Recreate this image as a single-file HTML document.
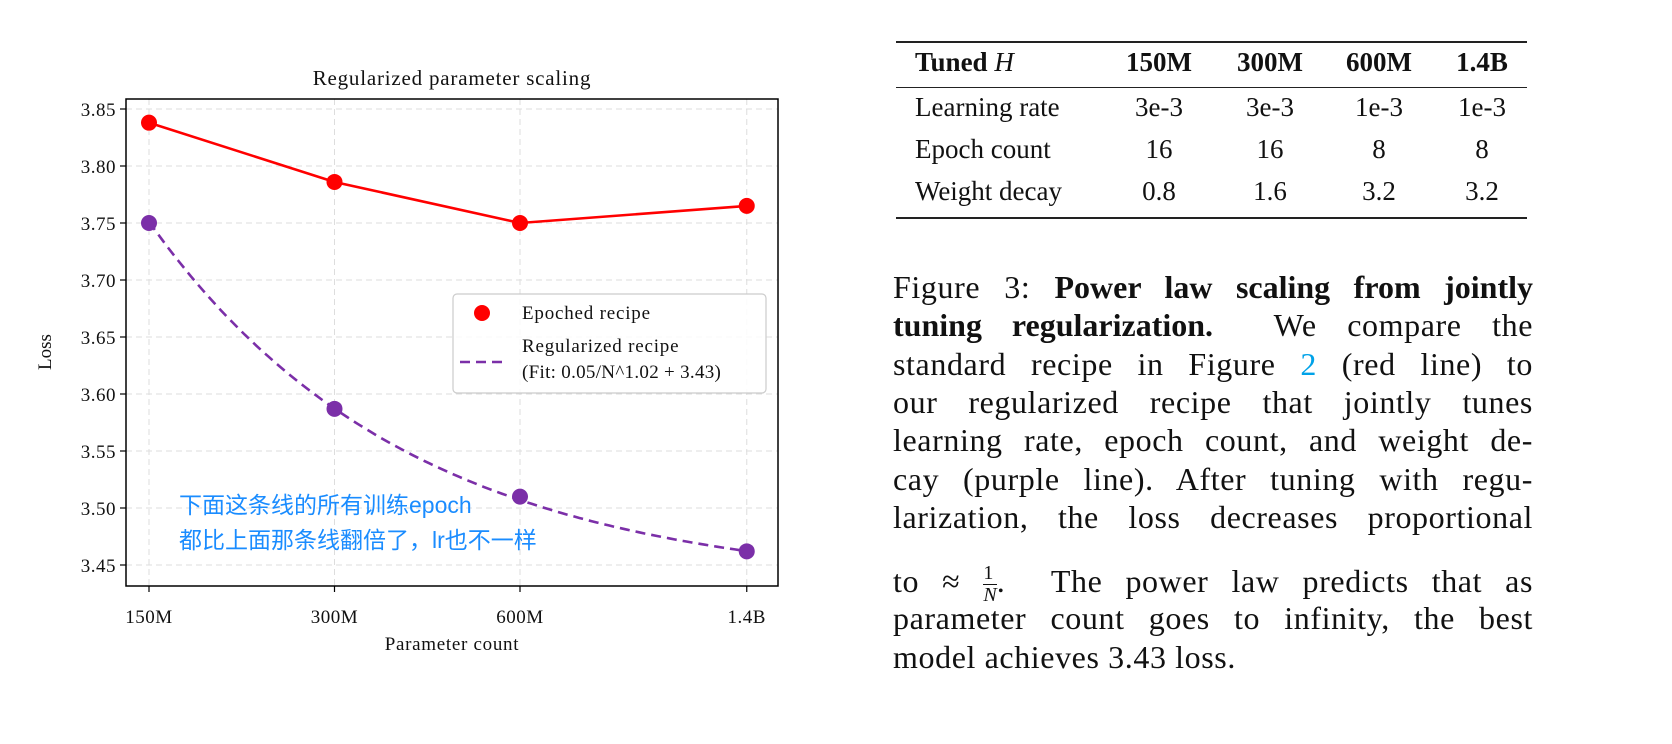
<!DOCTYPE html>
<html><head><meta charset="utf-8">
<style>
body{margin:0;background:#fff;width:1672px;height:744px;overflow:hidden;position:relative;font-family:"Liberation Serif",serif}
.cap{position:absolute;left:893px;width:640px;font-size:32px;line-height:38px;white-space:nowrap;text-align:justify;text-align-last:justify;color:#111;letter-spacing:0.6px}
.cap b{font-weight:bold;letter-spacing:0}
</style></head><body>
<svg id="chart" width="800" height="744" style="position:absolute;left:0;top:0" font-family="'Liberation Serif',serif"></svg>

<div style="position:absolute;left:896px;top:41px;width:631px;font-size:27px;color:#111">
<div style="border-top:2px solid #222"></div>
<div style="position:relative;height:44px;font-weight:bold">
<span style="position:absolute;left:19px;top:4px">Tuned <i style="font-weight:normal">H</i></span>
<span style="position:absolute;left:223px;width:80px;text-align:center;top:4px">150M</span>
<span style="position:absolute;left:334px;width:80px;text-align:center;top:4px">300M</span>
<span style="position:absolute;left:443px;width:80px;text-align:center;top:4px">600M</span>
<span style="position:absolute;left:546px;width:80px;text-align:center;top:4px">1.4B</span>
</div>
<div style="border-top:1.5px solid #222"></div>
<div style="position:relative;height:42px">
<span style="position:absolute;left:19px;top:4px">Learning rate</span>
<span style="position:absolute;left:223px;width:80px;text-align:center;top:4px">3e-3</span>
<span style="position:absolute;left:334px;width:80px;text-align:center;top:4px">3e-3</span>
<span style="position:absolute;left:443px;width:80px;text-align:center;top:4px">1e-3</span>
<span style="position:absolute;left:546px;width:80px;text-align:center;top:4px">1e-3</span>
</div>
<div style="position:relative;height:42px">
<span style="position:absolute;left:19px;top:4px">Epoch count</span>
<span style="position:absolute;left:223px;width:80px;text-align:center;top:4px">16</span>
<span style="position:absolute;left:334px;width:80px;text-align:center;top:4px">16</span>
<span style="position:absolute;left:443px;width:80px;text-align:center;top:4px">8</span>
<span style="position:absolute;left:546px;width:80px;text-align:center;top:4px">8</span>
</div>
<div style="position:relative;height:45px">
<span style="position:absolute;left:19px;top:4px">Weight decay</span>
<span style="position:absolute;left:223px;width:80px;text-align:center;top:4px">0.8</span>
<span style="position:absolute;left:334px;width:80px;text-align:center;top:4px">1.6</span>
<span style="position:absolute;left:443px;width:80px;text-align:center;top:4px">3.2</span>
<span style="position:absolute;left:546px;width:80px;text-align:center;top:4px">3.2</span>
</div>
<div style="border-top:2px solid #222"></div>
</div>

<div>
<div class="cap" style="top:268px">Figure 3: <b>Power law scaling from jointly</b></div>
<div class="cap" style="top:306px"><b>tuning regularization.</b>&nbsp; We compare the</div>
<div class="cap" style="top:345px">standard recipe in Figure <span style="color:#00a2e8">2</span> (red line) to</div>
<div class="cap" style="top:383px">our regularized recipe that jointly tunes</div>
<div class="cap" style="top:421px">learning rate, epoch count, and weight de-</div>
<div class="cap" style="top:460px">cay (purple line). After tuning with regu-</div>
<div class="cap" style="top:498px">larization, the loss decreases proportional</div>
<div class="cap" style="top:562px">to ≈ <span style="display:inline-block;vertical-align:middle;text-align:center;font-size:20px;line-height:21px;letter-spacing:0"><span style="display:block;border-bottom:1px solid #111">1</span><i>N</i></span>.&nbsp; The power law predicts that as</div>
<div class="cap" style="top:599px">parameter count goes to infinity, the best</div>
<div class="cap" style="top:638px;text-align-last:left">model achieves 3.43 loss.</div>
</div>

<script>
const categories = ["150M","300M","600M","1.4B"];
const paramsB = [0.15,0.3,0.6,1.4];
const epochedLoss = [3.838,3.786,3.750,3.765];
const regularizedLoss = [3.750,3.587,3.510,3.462];
const yTicks = [3.45,3.50,3.55,3.60,3.65,3.70,3.75,3.80,3.85];
const fitParams = [0.0455,1.03,3.43];

const NS="http://www.w3.org/2000/svg";
const svg=document.getElementById('chart');
const L=126,R=778,T=99,B=586;
const xScale=n=>149+(Math.log2(n/0.15))*185.5;
const yScale=v=>565-(v-3.45)/0.05*57;
function mk(tag,attrs,parent){const e=document.createElementNS(NS,tag);for(const k in attrs)e.setAttribute(k,attrs[k]);(parent||svg).appendChild(e);return e;}

yTicks.forEach(v=>{
  const g=mk('line',{x1:L,x2:R,y1:yScale(v),y2:yScale(v),stroke:'#ddd','stroke-dasharray':'6,4','stroke-width':1});
  
  
  mk('line',{x1:L-6,x2:L,y1:yScale(v),y2:yScale(v),stroke:'#000','stroke-width':1.2});
  const t=mk('text',{x:L-10,y:yScale(v)+7,'text-anchor':'end','font-size':19,fill:'#111','letter-spacing':0.5});
  t.textContent=v.toFixed(2);
  
  
});
paramsB.forEach((n,i)=>{
  const g=mk('line',{x1:xScale(n),x2:xScale(n),y1:T,y2:B,stroke:'#ddd','stroke-dasharray':'6,4','stroke-width':1});
  
  
  mk('line',{x1:xScale(n),x2:xScale(n),y1:B,y2:B+6,stroke:'#000','stroke-width':1.2});
  const t=mk('text',{x:xScale(n),y:623,'text-anchor':'middle','font-size':19,fill:'#111','letter-spacing':0.5});
  t.textContent=categories[i];
  
  
});

let d='';
const n0=paramsB[0],n1=paramsB[paramsB.length-1];
for(let k=0;k<=100;k++){const n=n0*Math.pow(n1/n0,k/100);const v=fitParams[0]*Math.pow(n,-fitParams[1])+fitParams[2];d+=(k?'L':'M')+xScale(n).toFixed(1)+','+yScale(v).toFixed(1);}
const fit=mk('path',{d:d,fill:'none',stroke:'#7b2fa8','stroke-width':2.6,'stroke-dasharray':'10,6'});


regularizedLoss.forEach((v,i)=>{
  const c=mk('circle',{cx:xScale(paramsB[i]),cy:yScale(v),r:8,fill:'#7b2fa8'});
  
  
});
const rl=mk('polyline',{points:epochedLoss.map((v,i)=>xScale(paramsB[i])+','+yScale(v)).join(' '),fill:'none',stroke:'#f00','stroke-width':2.6});


epochedLoss.forEach((v,i)=>{
  const c=mk('circle',{cx:xScale(paramsB[i]),cy:yScale(v),r:8,fill:'#f00'});
  
  
});

mk('rect',{x:L,y:T,width:R-L,height:B-T,fill:'none',stroke:'#000','stroke-width':1.5});

let t=mk('text',{x:(L+R)/2,y:85,'text-anchor':'middle','font-size':21,fill:'#111','letter-spacing':0.8});t.textContent='Regularized parameter scaling';

t=mk('text',{x:(L+R)/2,y:650,'text-anchor':'middle','font-size':19,fill:'#111','letter-spacing':0.7});t.textContent='Parameter count';

t=mk('text',{x:0,y:0,'text-anchor':'middle','font-size':19,fill:'#111',transform:'translate(51,352) rotate(-90)'});t.textContent='Loss';


const lg=mk('g',{});


mk('rect',{x:453,y:294,width:313,height:99,rx:4,fill:'#fff','fill-opacity':0.85,stroke:'#ccc','stroke-width':1.2},lg);
mk('circle',{cx:482,cy:313,r:8,fill:'#f00'},lg);
t=mk('text',{x:522,y:319,'font-size':19,fill:'#111','letter-spacing':0.8},lg);t.textContent='Epoched recipe';
mk('line',{x1:460,x2:505,y1:362,y2:362,stroke:'#7b2fa8','stroke-width':2.6,'stroke-dasharray':'10,6'},lg);
t=mk('text',{x:522,y:352,'font-size':19,fill:'#111','letter-spacing':0.8},lg);t.textContent='Regularized recipe';
t=mk('text',{x:522,y:378,'font-size':19,fill:'#111','letter-spacing':0.3},lg);t.textContent='(Fit: 0.05/N^1.02 + 3.43)';

const an=mk('text',{x:179,y:513,'font-size':23,fill:'#1a8cff','font-family':"'Liberation Sans','Noto Sans CJK SC',sans-serif"});


mk('tspan',{x:179,y:513},an).textContent='下面这条线的所有训练epoch';
mk('tspan',{x:179,y:548},an).textContent='都比上面那条线翻倍了，lr也不一样';
</script>
</body></html>
